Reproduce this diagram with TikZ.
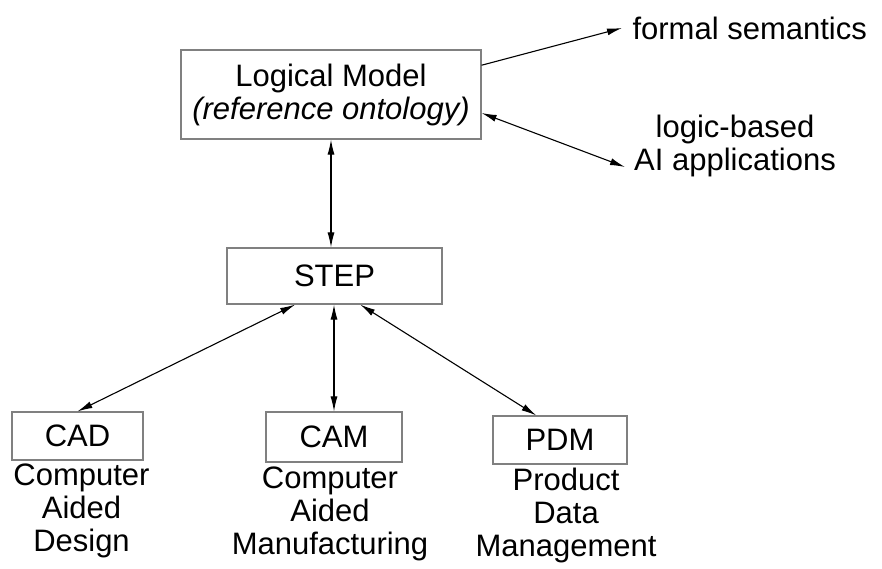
\documentclass[tikz,border=0pt]{standalone}
\usepackage{fontspec}
\setmainfont{Liberation Sans}
\usetikzlibrary{arrows.meta,positioning}
\tikzset{
  box/.style={draw=black!50, line width=1.2pt, inner sep=0pt, align=center},
  desc/.style={align=center, inner sep=0pt},
  lbl/.style={inner sep=0pt, align=center},
}
\begin{document}
\begin{tikzpicture}[x=1pt, y=-1pt, <->, >={Latex[length=15pt,width=7pt]},
  line width=1.1pt, font=\fontsize{31}{33}\selectfont]
		\useasboundingbox (0,0) rectangle (882,568);
		\node (lm) [box, minimum width=300pt, minimum height=89pt] at (331,94.5) {Logical Model\\\textit{(reference ontology)}};
		\node (step) [box, minimum width=215pt, minimum height=56pt] at (334.5,276) {STEP};
		\node (cad) [box, minimum width=131pt, minimum height=48pt] at (77.5,436) {CAD};
		\node (cam) [box, minimum width=136pt, minimum height=50pt] at (334,437) {CAM};
		\node (pdm) [box, minimum width=134pt, minimum height=48pt] at (560,440) {PDM};
		\node (cadtxt) [desc, below=3pt of cad, xshift=4pt] {Computer\\Aided\\Design};
		\node (camtxt) [desc, below=4pt of cam, xshift=-4pt] {Computer\\Aided\\Manufacturing};
		\node (pdmtxt) [desc, below=3pt of pdm, xshift=6pt] {Product\\Data\\Management};
		\node (fs) [lbl, anchor=west] at (632,28) {formal semantics};
		\node (ai) [lbl] at (735,146) {logic-based\\AI applications};
		\coordinate (aiend) at (625,167);
		\draw[->] (lm.11) -- ([xshift=-10pt]fs.west);
		\draw (lm.-7) -- (aiend);
		\draw (lm.south) -- (lm.south |- step.north);
		\draw (step.-144) -- (cad.north);
		\draw (step.south -| cam.north) -- (cam.north);
		\draw (step.-48) -- (pdm.134);
		\end{tikzpicture}
\end{document}
